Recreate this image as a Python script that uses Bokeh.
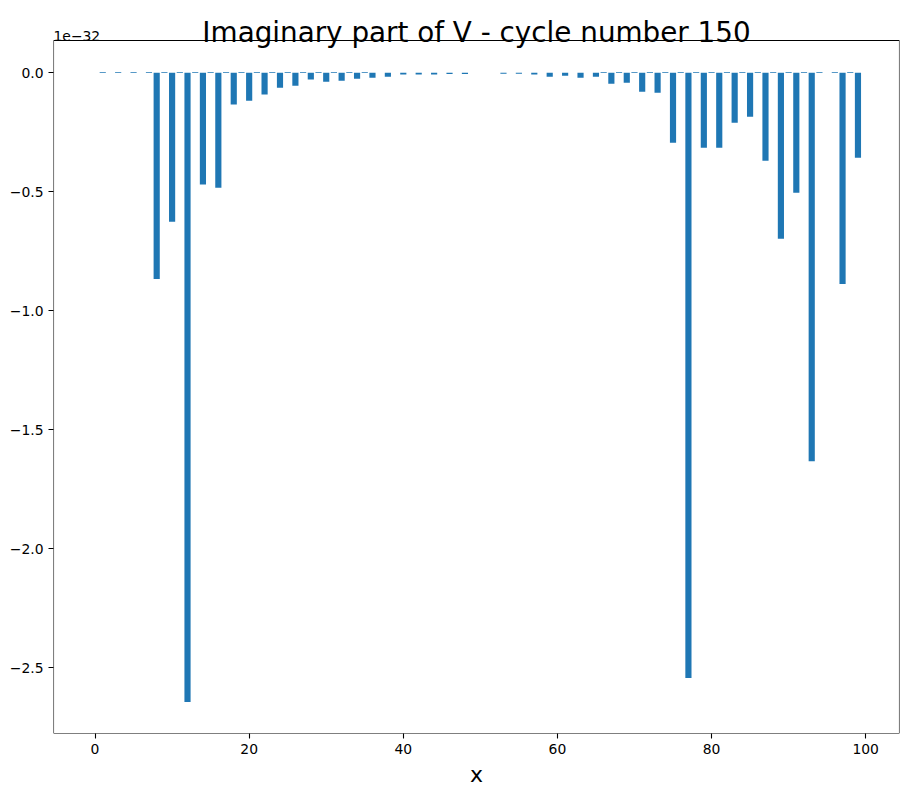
from bokeh.plotting import figure
from bokeh.models import (FixedTicker, CustomJSTickFormatter, Label, ColumnDataSource,
                          Range1d, BoxAnnotation)
from bokeh.embed import file_html
from bokeh.resources import INLINE

# ---- data (values in units of 1e-32) ----
x_index = list(range(100))
imag_v_e32 = [
    0.0, 0.003, 0.0, 0.003, 0.0, 0.003, 0.0, 0.003, -0.866, 0.003,      # 0-9
    -0.626, 0.003, -2.643, 0.003, -0.469, 0.003, -0.483, 0.003, -0.134, 0.003,  # 10-19
    -0.118, 0.003, -0.092, 0.003, -0.063, 0.003, -0.055, 0.003, -0.029, 0.003,  # 20-29
    -0.038, 0.003, -0.034, 0.003, -0.025, 0.003, -0.021, 0.0, -0.017, 0.0,      # 30-39
    -0.008, 0.0, -0.008, 0.0, -0.008, 0.0, -0.005, 0.0, -0.005, 0.0,            # 40-49
    0.0, 0.0, 0.0, -0.004, 0.0, -0.004, 0.0, -0.008, 0.0, -0.017,              # 50-59
    0.0, -0.013, 0.0, -0.021, 0.0, -0.017, 0.003, -0.046, 0.003, -0.042,        # 60-69
    0.003, -0.080, 0.003, -0.084, 0.003, -0.294, 0.003, -2.542, 0.003, -0.315,  # 70-79
    0.003, -0.315, 0.003, -0.210, 0.003, -0.185, 0.003, -0.370, 0.003, -0.697,  # 80-89
    0.003, -0.504, 0.003, -1.632, 0.003, 0.0, 0.003, -0.887, 0.003, -0.357,     # 90-99
]
scale_label = "1e\u221232"
title_text = "Imaginary part of V - cycle number 150"
x_label = "x"
x_ticks = [0, 20, 40, 60, 80, 100]
y_ticks = [0.0, -0.5, -1.0, -1.5, -2.0, -2.5]

BAR_W = 0.8
FONT = "DejaVu Sans"
BLUE = "#1f77b4"

# axes box limits (matplotlib-style 5% margins)
xmin, xmax = min(x_index) - BAR_W / 2, max(x_index) + BAR_W / 2
xpad = 0.05 * (xmax - xmin)
ymin, ymax = min(imag_v_e32 + [0.0]), max(imag_v_e32 + [0.0])
ypad = 0.05 * (ymax - ymin)
box_l, box_r = xmin - xpad, xmax + xpad
box_b, box_t = ymin - ypad, ymax + ypad

W, H = 908, 796
BL, BR, BB = 53, 9, 63
TOP_GAP = 40                      # space above the axes box (title area)
BOX_H = H - BB - TOP_GAP
unit_per_px = (box_t - box_b) / BOX_H
# the plot frame extends up to the canvas top so the title texts can live in it
frame_top = box_t + TOP_GAP * unit_per_px

p = figure(
    width=W, height=H, title=None,
    min_border_left=BL, min_border_right=BR, min_border_top=0, min_border_bottom=BB,
    x_range=Range1d(box_l, box_r),
    y_range=Range1d(box_b, frame_top),
    output_backend="svg", toolbar_location=None,
)
p.background_fill_color = "white"
p.border_fill_color = "white"
p.outline_line_color = None
p.xgrid.visible = False
p.ygrid.visible = False

src = ColumnDataSource(dict(x=x_index, top=imag_v_e32))
p.vbar(x="x", top="top", bottom=0, width=BAR_W, source=src,
       fill_color=BLUE, line_color=None)

# axes box
p.add_layout(BoxAnnotation(left=box_l, right=box_r, bottom=box_b, top=box_t,
                           fill_alpha=0, fill_color=None,
                           line_color="black", line_alpha=1.0, line_width=1.1))

for ax in (p.xaxis[0], p.yaxis[0]):
    ax.axis_line_color = None
    ax.major_tick_line_color = "black"
    ax.major_tick_line_width = 1.1
    ax.major_tick_out = 5
    ax.major_tick_in = 0
    ax.minor_tick_line_color = None
    ax.major_label_text_font = FONT
    ax.major_label_text_font_size = "13.9px"
    ax.major_label_text_color = "black"
    ax.major_label_standoff = 5

p.xaxis.ticker = FixedTicker(ticks=x_ticks)
p.yaxis.ticker = FixedTicker(ticks=y_ticks)
p.yaxis.formatter = CustomJSTickFormatter(
    code="return tick === 0 ? '0.0' : tick.toFixed(1).replace('-', '\\u2212');")

p.xaxis.axis_label = x_label
p.xaxis.axis_label_text_font = FONT
p.xaxis.axis_label_text_font_size = "22px"
p.xaxis.axis_label_text_font_style = "normal"
p.xaxis.axis_label_text_color = "black"
p.xaxis.axis_label_standoff = 5

p.add_layout(Label(x=(box_l + box_r) / 2, y=box_t + 8.5 * unit_per_px,
                   text=title_text, text_align="center", text_baseline="alphabetic",
                   text_font=FONT, text_font_size="27.8px", text_color="black"))
p.add_layout(Label(x=box_l, y=box_t + 4.7 * unit_per_px,
                   text=scale_label, text_align="left", text_baseline="alphabetic",
                   text_font=FONT, text_font_size="13.9px", text_color="black"))

open("out.html", "w").write(file_html(p, INLINE))
